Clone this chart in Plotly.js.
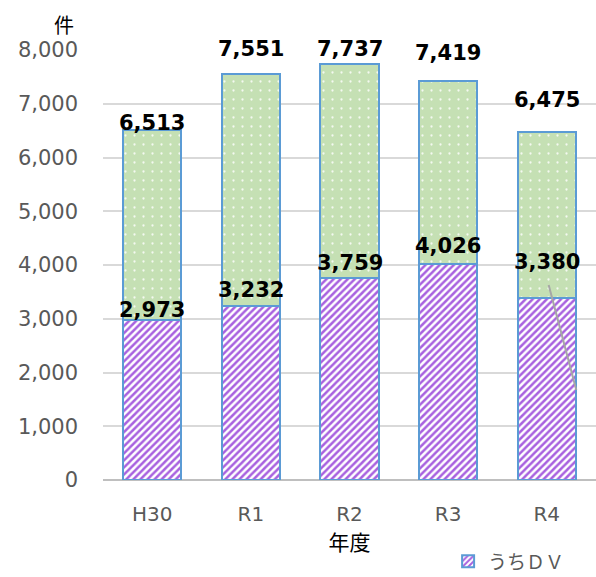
<!DOCTYPE html>
<html><head><meta charset="utf-8">
<script src="https://cdn.plot.ly/plotly-3.0.1.min.js"></script>
<style>html,body{margin:0;padding:0;background:#fff}</style>
</head><body><div id="chart" style="width:596px;height:577px"></div>
<script>
const categories = ["H30","R1","R2","R3","R4"];
const totals = [6513, 7551, 7737, 7419, 6475];
const dv = [2973, 3232, 3759, 4026, 3380];
const otherCases = totals.map((t,i)=>t-dv[i]);

const totalShift = [-7, 11, 1, 14, 18];
const dvShift = [-4, 2, 1, 4, 22];

const fmt = v => v.toLocaleString('en-US');
const labelFont = {family:'DejaVu Sans', size:21, color:'#000', weight:'bold'};

const traces = [
  {type:'bar', name:'うちＤＶ', x:categories, y:dv,
   marker:{color:'#ffffff', line:{color:'#5b9bd5', width:2},
     pattern:{shape:'/', fgcolor:'#a861df', bgcolor:'#ffffff', size:5, solidity:0.5}},
   hoverinfo:'none', showlegend:true},
  {type:'bar', name:'その他', x:categories, y:otherCases,
   marker:{color:'#c5e0b4', line:{color:'#5b9bd5', width:2},
     pattern:{shape:'.', fgcolor:'#f4f9f0', bgcolor:'#c5e0b4', size:9, solidity:0.05}},
   hoverinfo:'none', showlegend:false}
];

const annotations = [];
categories.forEach((c,i)=>{
  annotations.push({x:c, y:totals[i], text:'<b>'+fmt(totals[i])+'</b>', showarrow:false,
    yanchor:'bottom', yshift:totalShift[i], font:labelFont});
  annotations.push({x:c, y:dv[i], text:'<b>'+fmt(dv[i])+'</b>', showarrow:false,
    yanchor:'bottom', yshift:dvShift[i], font:labelFont});
});
annotations.push({xref:'paper', yref:'paper', x:-0.055, y:1.02, xanchor:'right', yanchor:'bottom',
  text:'件', showarrow:false, font:{family:'Noto Sans CJK JP', size:20, color:'#000'}});

const layout = {
  width:596, height:577,
  margin:{l:103, r:0, t:50, b:97, autoexpand:false},
  paper_bgcolor:'#fff', plot_bgcolor:'#fff',
  barmode:'stack', bargap:0.41,
  showlegend:true,
  legend:{orientation:'h', x:0.7, y:-0.145, xanchor:'left', yanchor:'top',
    font:{family:'Noto Sans CJK JP', size:19, color:'#595959'}, bgcolor:'rgba(0,0,0,0)',
    itemwidth:30},
  xaxis:{type:'category', showgrid:false, showline:false, zeroline:false, ticks:'',
    ticklabelstandoff:20,
    tickfont:{family:'DejaVu Sans', size:20, color:'#595959'}, automargin:false,
    title:{text:'年度', standoff:7, font:{family:'Noto Sans CJK JP', size:21, color:'#000'}}},
  yaxis:{range:[0,8000], dtick:1000, tickformat:',d', showgrid:true, gridcolor:'#d9d9d9', gridwidth:2,
    zeroline:true, zerolinecolor:'#bfbfbf', zerolinewidth:2, showline:false, ticks:'',
    ticklabelstandoff:24, automargin:false,
    tickfont:{family:'DejaVu Sans', size:21, color:'#595959'}},
  annotations:annotations,
  shapes:[{type:'line', xref:'x', yref:'y', x0:4.02, y0:3628, x1:4.30, y1:1674,
    line:{color:'#a6a6a6', width:2}}],
  font:{family:'DejaVu Sans'}
};

Plotly.newPlot('chart', traces, layout, {staticPlot:true, displayModeBar:false});
</script></body></html>
